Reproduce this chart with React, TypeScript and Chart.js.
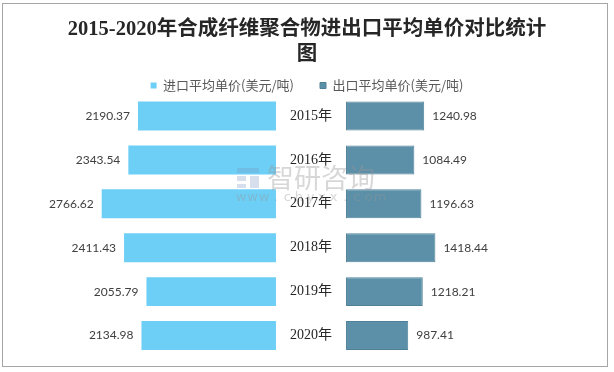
import React, { useEffect, useRef } from "react";
import { Chart, registerables } from "chart.js";

Chart.register(...registerables);

const TITLE_LINES = ["2015-2020年合成纤维聚合物进出口平均单价对比统计", "图"];
const YEARS = ["2015年", "2016年", "2017年", "2018年", "2019年", "2020年"];
const IMPORT_LABEL = "进口平均单价(美元/吨)";
const EXPORT_LABEL = "出口平均单价(美元/吨)";
const IMPORT_PRICES = [2190.37, 2343.54, 2766.62, 2411.43, 2055.79, 2134.98];
const EXPORT_PRICES = [1240.98, 1084.49, 1196.63, 1418.44, 1218.21, 987.41];

const HALF_GAP = 556;
const SCALE_MIN = -4508;
const SCALE_MAX = 4381;

const IMPORT_COLOR = "#6dcff6";
const EXPORT_COLOR = "#5c90a8";

const framePlugin = {
  id: "frame",
  beforeDraw(chart: any) {
    const ctx = chart.ctx;
    ctx.save();
    ctx.fillStyle = "#ffffff";
    ctx.fillRect(0, 0, chart.width, chart.height);
    ctx.strokeStyle = "#a6a6a6";
    ctx.lineWidth = 1;
    ctx.strokeRect(2.5, 3.5, 605, 363);
    ctx.restore();
  },
};

const labelPlugin = {
  id: "valueLabels",
  afterDatasetsDraw(chart: any) {
    const ctx = chart.ctx;
    const xs = chart.scales.x;
    const cx = xs.getPixelForValue(0);
    ctx.save();
    ctx.textBaseline = "middle";
    const m0 = chart.getDatasetMeta(0);
    const m1 = chart.getDatasetMeta(1);
    m0.data.forEach((bar: any, i: number) => {
      const left = Math.min(bar.x, bar.base);
      ctx.font = "12px Lato, 'Liberation Sans', sans-serif";
      ctx.fillStyle = "#404040";
      ctx.textAlign = "right";
      ctx.fillText(IMPORT_PRICES[i].toFixed(2), left - 8, bar.y);
      ctx.font = "14px 'Liberation Serif', 'Noto Sans CJK SC', serif";
      ctx.fillStyle = "#262626";
      ctx.textAlign = "center";
      ctx.fillText(YEARS[i], cx, bar.y);
    });
    m1.data.forEach((bar: any, i: number) => {
      const right = Math.max(bar.x, bar.base);
      ctx.font = "12px Lato, 'Liberation Sans', sans-serif";
      ctx.fillStyle = "#404040";
      ctx.textAlign = "left";
      ctx.fillText(EXPORT_PRICES[i].toFixed(2), right + 8, bar.y);
    });
    ctx.restore();
  },
};

const watermarkPlugin = {
  id: "watermark",
  afterDraw(chart: any) {
    const ctx = chart.ctx;
    ctx.save();
    ctx.fillStyle = "rgba(150,150,150,0.38)";
    ctx.textBaseline = "middle";
    ctx.textAlign = "left";
    ctx.font = "27px 'Noto Sans CJK SC', sans-serif";
    ctx.fillText("智研咨询", 267, 178);
    ctx.font = "13px 'DejaVu Sans', sans-serif";
    const s = "www.chyxx.com";
    const step = (377 - 238) / (s.length - 1);
    ctx.textAlign = "center";
    for (let i = 0; i < s.length; i++) {
      ctx.fillText(s[i], 241 + i * step, 198);
    }
    ctx.fillStyle = "rgba(120,150,190,0.3)";
    ctx.fillRect(237, 168, 22, 5);
    ctx.fillRect(237, 176, 9, 5);
    ctx.fillRect(250, 176, 9, 12);
    ctx.fillRect(237, 184, 9, 4);
    ctx.restore();
  },
};

export default function App() {
  const ref = useRef<HTMLCanvasElement | null>(null);

  useEffect(() => {
    document.body.style.margin = "0";
    const canvas = ref.current;
    if (!canvas) return;
    const chart = new Chart(canvas, {
      type: "bar",
      data: {
        labels: YEARS,
        datasets: [
          {
            label: IMPORT_LABEL,
            data: IMPORT_PRICES.map((v) => [-(HALF_GAP + v), -HALF_GAP]) as any,
            backgroundColor: IMPORT_COLOR,
            borderWidth: 0,
            categoryPercentage: 1,
            barPercentage: 0.66,
            grouped: false,
          },
          {
            label: EXPORT_LABEL,
            data: EXPORT_PRICES.map((v) => [HALF_GAP, HALF_GAP + v]) as any,
            backgroundColor: EXPORT_COLOR,
            borderColor: "#4f8199",
            borderWidth: 1,
            borderSkipped: false,
            categoryPercentage: 1,
            barPercentage: 0.66,
            grouped: false,
          },
        ],
      },
      options: {
        indexAxis: "y",
        responsive: false,
        animation: false,
        layout: { padding: { left: 27, right: 27, top: 0, bottom: 14.5 } },
        scales: {
          x: { display: false, min: SCALE_MIN, max: SCALE_MAX },
          y: { display: false },
        },
        plugins: {
          title: {
            display: true,
            text: TITLE_LINES,
            color: "#262626",
            font: {
              size: 20.5,
              weight: "bold",
              family: "'Liberation Serif', 'Noto Sans CJK SC', serif",
              lineHeight: 1.22,
            },
            padding: { top: 17, bottom: -14 },
          },
          legend: {
            display: true,
            position: "top",
            maxHeight: 41,
            labels: {
              boxWidth: 6,
              boxHeight: 6,
              padding: 26,
              color: "#595959",
              font: { size: 13, family: "'Noto Sans CJK SC', sans-serif" },
            },
          },
          tooltip: { enabled: false },
        },
      },
      plugins: [framePlugin, labelPlugin, watermarkPlugin],
    });
    return () => chart.destroy();
  }, []);

  return (
    <div style={{ position: "absolute", left: 0, top: 0, width: 614, height: 372 }}>
      <canvas ref={ref} width={614} height={372} style={{ width: 614, height: 372 }} />
    </div>
  );
}
